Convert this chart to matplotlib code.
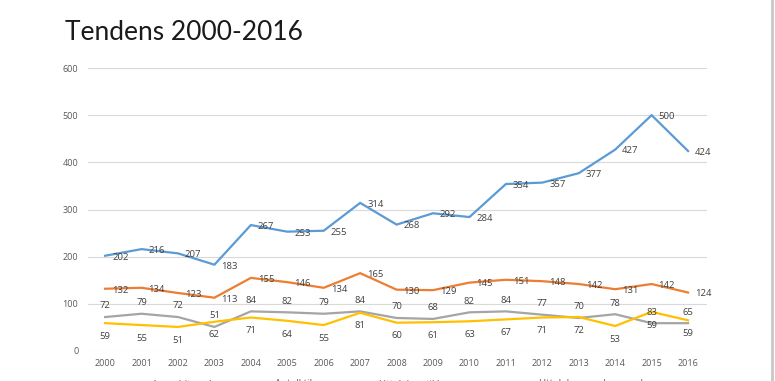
import matplotlib
matplotlib.use("Agg")
import matplotlib.pyplot as plt
from matplotlib.lines import Line2D

years = [str(y) for y in range(2000, 2017)]
series_names = ["Anmeldte saker", "Antall tilsyn", "Uttalelser til kommuner", "Uttalelser om byggesaker"]
blue = [202, 216, 207, 183, 267, 253, 255, 314, 268, 292, 284, 354, 357, 377, 427, 500, 424]
orange = [132, 134, 123, 113, 155, 146, 134, 165, 130, 129, 145, 151, 148, 142, 131, 142, 124]
gray = [72, 79, 72, 51, 84, 82, 79, 84, 70, 68, 82, 84, 77, 70, 78, 59, 59]
yellow = [59, 55, 51, 62, 71, 64, 55, 81, 60, 61, 63, 67, 71, 72, 53, 83, 65]
# label texts as printed in the chart (the last two years show swapped texts)
gray_label_text = [72, 79, 72, 51, 84, 82, 79, 84, 70, 68, 82, 84, 77, 70, 78, 83, 65]
yellow_label_text = [59, 55, 51, 62, 71, 64, 55, 81, 60, 61, 63, 67, 71, 72, 53, 59, 59]
yticks = [0, 100, 200, 300, 400, 500, 600]

colors = ["#5B9BD5", "#ED7D31", "#A5A5A5", "#FFC000"]
font = ["Open Sans", "DejaVu Sans"]
plt.rcParams["font.family"] = font

fig = plt.figure(figsize=(7.75, 3.81), dpi=100)
ax = fig.add_axes([88/775, 1-351/381, (707-88)/775, (351-68)/381])
x = list(range(len(years)))
allser = [blue, orange, gray, yellow]
for s, c in zip(allser, colors):
    ax.plot(x, s, color=c, lw=1.6, solid_joinstyle="miter")

lab_col = "#404040"
fs = 6.8
for i in x:
    ax.annotate(str(blue[i]), (i, blue[i]), xytext=(5, -1), textcoords="offset points",
                ha="left", va="center", fontsize=fs, color=lab_col)
    ax.annotate(str(orange[i]), (i, orange[i]), xytext=(5, -1), textcoords="offset points",
                ha="left", va="center", fontsize=fs, color=lab_col)
    ax.annotate(str(gray_label_text[i]), (i, gray[i]), xytext=(0, 8), textcoords="offset points",
                ha="center", va="center", fontsize=fs, color=lab_col)
    ax.annotate(str(yellow_label_text[i]), (i, yellow[i]), xytext=(0, -9.5), textcoords="offset points",
                ha="center", va="center", fontsize=fs, color=lab_col)

ax.set_xlim(-0.47, 16.52)
ax.set_ylim(0, 600)
ax.set_yticks(yticks)
ax.set_xticks(x)
ax.set_xticklabels(years)
ax.tick_params(axis="both", length=0, labelsize=6.5, labelcolor="#595959")
ax.tick_params(axis="y", pad=7)
ax.tick_params(axis="x", pad=6)
ax.grid(axis="y", color="#D9D9D9", lw=0.8)
ax.set_axisbelow(True)
for sp in ax.spines.values():
    sp.set_visible(False)

fig.text(65/775, 1-32/381, "Tendens 2000-2016", fontsize=19, ha="left", va="center",
         color="#1a1a1a", family=["Lato", "DejaVu Sans"])

handles = [Line2D([0], [0], color=c, lw=1.6) for c in colors]
fig.legend(handles, series_names, loc="center", bbox_to_anchor=(0.5, -4/381), ncol=4,
           frameon=False, fontsize=7, labelcolor="#595959", handlelength=2.5, columnspacing=2)

fig.add_artist(Line2D([772/775, 772/775], [0, 1], color="#C8C8C8", lw=2, transform=fig.transFigure))

fig.savefig("out.png", dpi=100, facecolor="white")
